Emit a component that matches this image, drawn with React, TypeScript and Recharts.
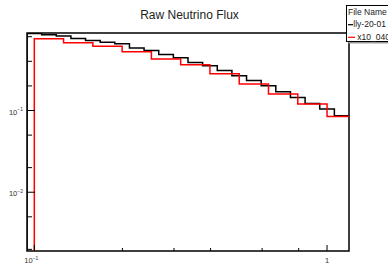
import { ComposedChart, Line, XAxis, YAxis, ReferenceArea } from 'recharts';

// bin edges (GeV) and flux per bin
const BLACK_EDGES = [
  0.09441, 0.10593, 0.11885, 0.13335, 0.14962, 0.16788, 0.18836, 0.21135, 0.23714, 0.26607, 0.29854, 0.33497,
  0.37584, 0.4217, 0.47315, 0.53088, 0.59566, 0.66834, 0.74989, 0.8414, 0.94406, 1.05925, 1.1885,
];
const BLACK_FLUX = [
  0.878, 0.847, 0.816, 0.763, 0.721, 0.685, 0.657, 0.582, 0.544, 0.486, 0.442, 0.388, 0.353, 0.309, 0.266, 0.2325,
  0.2008, 0.1695, 0.1443, 0.1218, 0.104, 0.0861,
];
const RED_EDGES = [0.1, 0.12589, 0.15849, 0.19953, 0.25119, 0.31623, 0.39811, 0.50119, 0.63096, 0.79433, 1.0, 1.25893];
const RED_FLUX = [0.756, 0.676, 0.612, 0.524, 0.4265, 0.363, 0.2817, 0.2113, 0.159, 0.1198, 0.0844];

const SERIES_NAMES = ['lly-20-01', 'x10_040'];
const SERIES_COLORS = ['#000000', '#ff0000'];

const X_DOMAIN = [0.09441, 1.1885];
const Y_DOMAIN = [0.00191, 0.888];

const X_TICKS = [0.1, 0.2, 0.3, 0.4, 0.5, 0.6, 0.7, 0.8, 0.9, 1];
const X_LABELS: Record<number, [string, string]> = { 0.1: ['10', '\u22121'], 1: ['1', ''] };
const Y_TICKS = [
  0.002, 0.003, 0.004, 0.005, 0.006, 0.007, 0.008, 0.009, 0.01, 0.02, 0.03, 0.04, 0.05, 0.06, 0.07, 0.08, 0.09, 0.1,
  0.2, 0.3, 0.4, 0.5, 0.6, 0.7, 0.8,
];
const Y_LABELS: Record<number, [string, string]> = { 0.01: ['10', '\u22122'], 0.1: ['10', '\u22121'] };

const W = 388;
const H = 264;
const LEFT = 27;
const TOP = 33;
const RIGHT = 349;
const BOTTOM = 251;
const FONT = '"Liberation Sans", Arial, sans-serif';

function toSteps(edges: number[], values: number[]) {
  const pts = [{ x: edges[0], y: Y_DOMAIN[0] }];
  edges.forEach((x, i) => pts.push({ x, y: values[Math.min(i, values.length - 1)] }));
  return pts;
}

const blackData = toSteps(BLACK_EDGES, BLACK_FLUX);
const redData = toSteps(RED_EDGES, RED_FLUX);

function YTick(props: any) {
  const { y, payload } = props;
  const lab = Y_LABELS[payload.value];
  return (
    <g>
      <line x1={LEFT} x2={LEFT + (lab ? 8 : 5)} y1={y} y2={y} stroke="#000" strokeWidth={1} />
      {lab && (
        <text x={LEFT - 4} y={y + 4} textAnchor="end" fontSize={7.5} fontFamily={FONT} fill="#333">
          {lab[0]}
          <tspan dy={-3.5} fontSize={5}>{lab[1]}</tspan>
        </text>
      )}
    </g>
  );
}

function XTick(props: any) {
  const { x, payload } = props;
  const lab = X_LABELS[payload.value];
  return (
    <g>
      <line x1={x} x2={x} y1={BOTTOM} y2={BOTTOM - (lab ? 6 : 3)} stroke="#000" strokeWidth={1} />
      {lab && (
        <text x={x - (lab[1] ? 3 : 0)} y={263} textAnchor="middle" fontSize={7.5} fontFamily={FONT} fill="#333">
          {lab[0]}
          {lab[1] && <tspan dy={-3.5} fontSize={5}>{lab[1]}</tspan>}
        </text>
      )}
    </g>
  );
}

export default function App() {
  return (
    <div style={{ position: 'absolute', left: 0, top: 0, width: W, height: H, background: '#fff' }}>
      <ComposedChart
        width={W}
        height={H}
        margin={{ top: TOP, right: W - RIGHT, bottom: 0, left: 0 }}
      >
        <XAxis
          dataKey="x"
          type="number"
          scale="log"
          domain={X_DOMAIN}
          allowDataOverflow
          ticks={X_TICKS}
          tick={XTick}
          tickLine={false}
          axisLine={false}
          height={H - BOTTOM}
        />
        <YAxis
          type="number"
          scale="log"
          domain={Y_DOMAIN}
          allowDataOverflow
          ticks={Y_TICKS}
          tick={YTick}
          tickLine={false}
          axisLine={false}
          width={LEFT}
        />
        <Line
          data={blackData}
          dataKey="y"
          name={SERIES_NAMES[0]}
          type="stepAfter"
          stroke={SERIES_COLORS[0]}
          strokeWidth={1.5}
          dot={false}
          isAnimationActive={false}
        />
        <Line
          data={redData}
          dataKey="y"
          name={SERIES_NAMES[1]}
          type="stepAfter"
          stroke={SERIES_COLORS[1]}
          strokeWidth={1.5}
          dot={false}
          isAnimationActive={false}
        />
        <ReferenceArea
          x1={X_DOMAIN[0]}
          x2={X_DOMAIN[1]}
          y1={Y_DOMAIN[0]}
          y2={Y_DOMAIN[1]}
          fill="none"
          stroke="#000"
          strokeWidth={1.5}
          fillOpacity={0}
        />
      </ComposedChart>
      <svg width={W} height={H} style={{ position: 'absolute', left: 0, top: 0, pointerEvents: 'none' }}>
        <text x={189.5} y={19} textAnchor="middle" fontSize={12} fontFamily={FONT} fill="#222">
          Raw Neutrino Flux
        </text>
        <rect x={348.5} y={7.5} width={50} height={36} fill="#999" />
        <rect x={346.5} y={5.5} width={50} height={36} fill="#fff" stroke="#000" strokeWidth={1} />
        <text x={348} y={15} fontSize={8.5} fontFamily={FONT} fill="#222">File Name</text>
        {SERIES_NAMES.map((n, i) => (
          <g key={n}>
            <line x1={348} x2={348 + 5 + i * 2} y1={24.7 + i * 12.6} y2={24.7 + i * 12.6} stroke={SERIES_COLORS[i]} strokeWidth={1.2} />
            <text x={353.3 + i * 4} y={27.3 + i * 12.8} fontSize={8.5} fontFamily={FONT} fill="#222">{n}</text>
          </g>
        ))}
      </svg>
    </div>
  );
}
